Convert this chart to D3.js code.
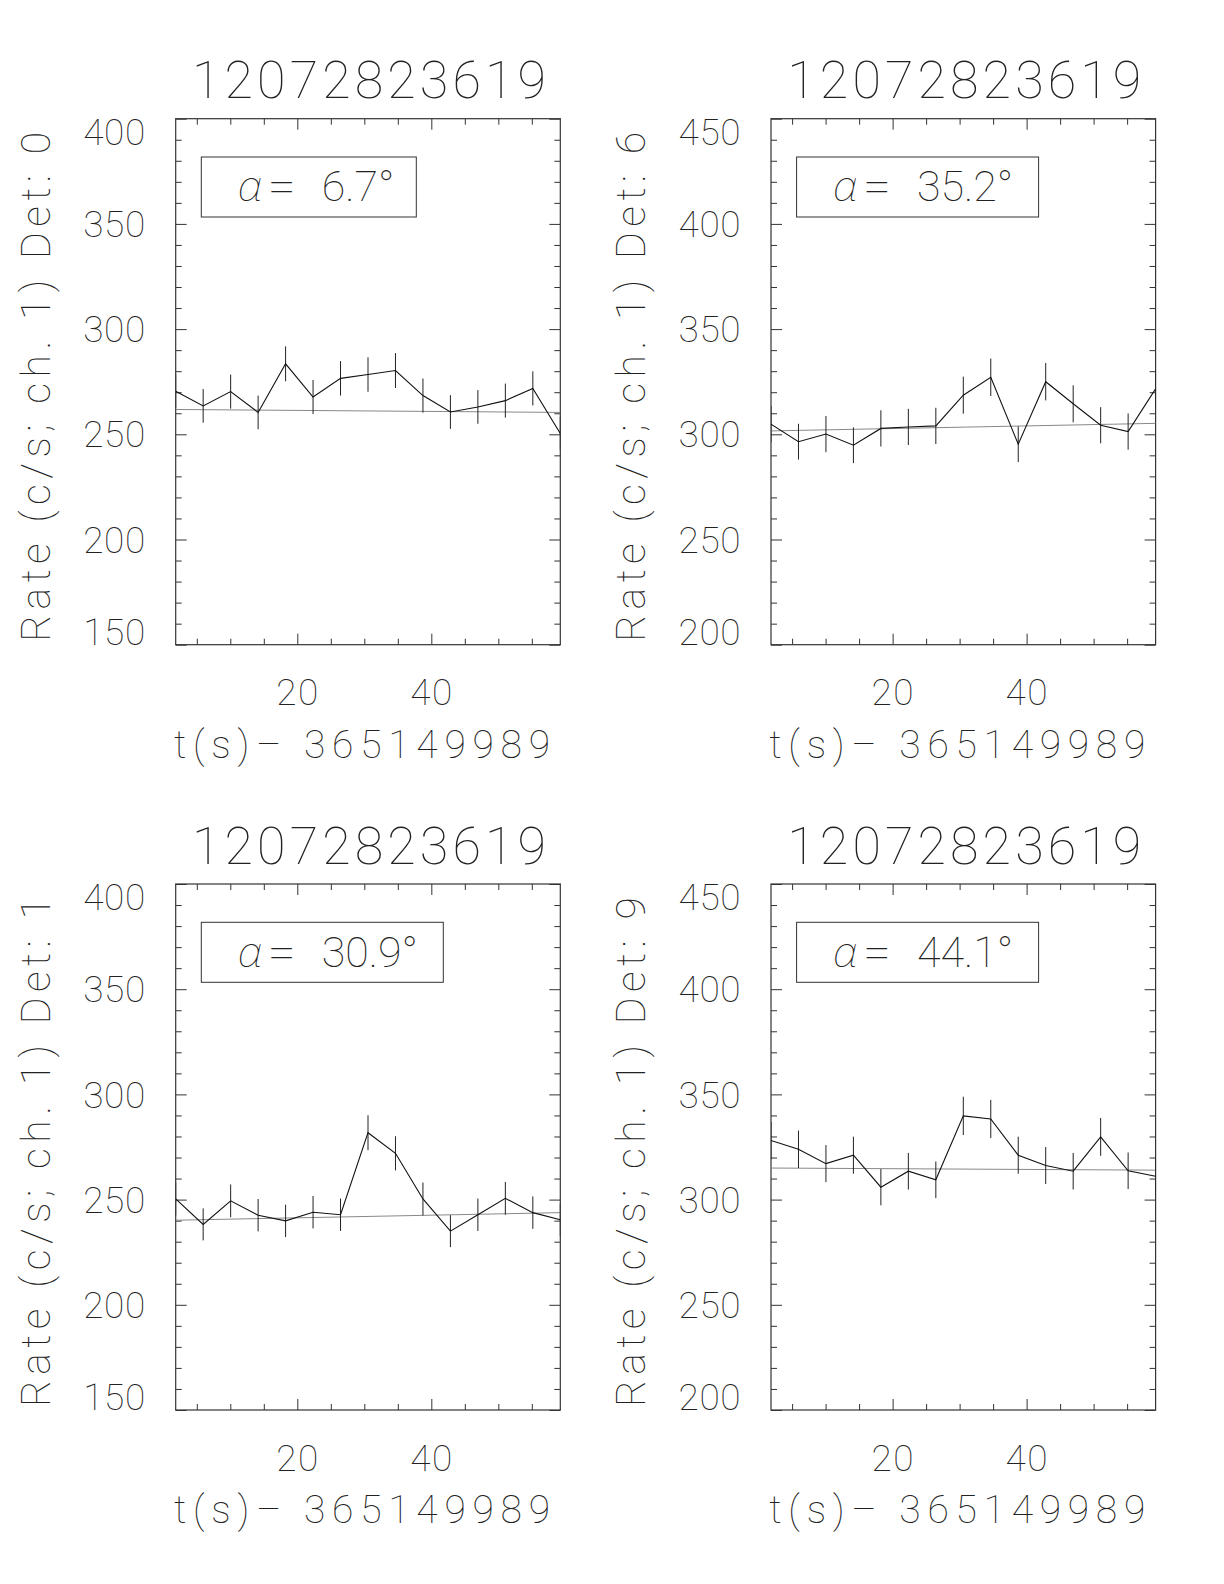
<!DOCTYPE html>
<html><head><meta charset="utf-8">
<script src="https://cdn.jsdelivr.net/npm/d3@7"></script>
<style>body{margin:0;background:#fff}svg text{font-family:Roboto,"DejaVu Sans",sans-serif;font-weight:100;fill:#222}</style>
</head><body>
<svg id="c" width="1224" height="1584"></svg>
<script>
// ---------- data ----------
const obsTitle = "12072823619";
const xTitle = "t(s)\u2013 365149989";
const times = [1.85, 5.95, 10.05, 14.15, 18.25, 22.35, 26.45, 30.55, 34.65, 38.75, 42.85, 46.95, 51.05, 55.15, 59.25];
const xMajorTicks = [20, 40];
const xMinorTicks = [5, 10, 15, 25, 30, 35, 45, 50, 55];
const detectors = ["0", "6", "1", "9"];
const angles = ["6.7", "35.2", "30.9", "44.1"];
const yLabelsLow = [150, 200, 250, 300, 350, 400];
const yLabelsHigh = [200, 250, 300, 350, 400, 450];

const rateDet0 = [270.5, 263.5, 270.3, 260.4, 283.5, 267.7, 276.6, 278.4, 280.3, 268.4, 260.6, 263.0, 266.0, 271.8, 250.4];
const errDet0  = [8.1, 8.0, 8.1, 8.0, 8.3, 8.1, 8.2, 8.2, 8.3, 8.1, 8.0, 8.0, 8.1, 8.1, 7.8];
const fitDet0  = [261.8, 260.4];

const rateDet6 = [304.8, 296.5, 300.1, 294.8, 302.8, 303.5, 304.0, 318.6, 327.1, 295.3, 325.0, 314.5, 304.3, 301.3, 321.6];
const errDet6  = [8.6, 8.5, 8.6, 8.5, 8.6, 8.6, 8.6, 8.8, 8.9, 8.5, 8.9, 8.8, 8.6, 8.6, 8.8];
const fitDet6  = [301.6, 305.2];

const rateDet1 = [250.3, 238.2, 249.4, 242.6, 239.9, 244.0, 242.8, 281.8, 272.0, 250.3, 235.0, 242.8, 250.6, 243.8, 240.4];
const errDet1  = [7.8, 7.6, 7.8, 7.7, 7.7, 7.7, 7.7, 8.3, 8.1, 7.8, 7.6, 7.7, 7.8, 7.7, 7.7];
const fitDet1  = [240.2, 243.8];

const rateDet9 = [328.1, 323.9, 317.1, 321.1, 305.9, 313.5, 309.4, 339.8, 338.3, 321.1, 316.2, 313.5, 329.8, 313.7, 311.1];
const errDet9  = [8.9, 8.9, 8.8, 8.8, 8.6, 8.7, 8.7, 9.1, 9.1, 8.8, 8.8, 8.7, 9.0, 8.7, 8.7];
const fitDet9  = [315.0, 314.0];

const yDomains = [[150, 400], [200, 450], [150, 400], [200, 450]];
const yLabelSets = [yLabelsLow, yLabelsHigh, yLabelsLow, yLabelsHigh];
const rates = [rateDet0, rateDet6, rateDet1, rateDet9];
const errs = [errDet0, errDet6, errDet1, errDet9];
const fits = [fitDet0, fitDet6, fitDet1, fitDet9];

// ---------- layout ----------
const W = 384.6, H = 526;
const origins = [[175.7, 118.7], [771, 118.7], [175.7, 884], [771, 884]];
const svg = d3.select("#c");

const fsTick = 37, fsTitle = 52, fsAxis = 39, fsYTitle = 41, fsAlpha = 43;
const cap = fs => fs * 0.711;

origins.forEach(([ox, oy], k) => {
  const g = svg.append("g").attr("transform", `translate(${ox},${oy})`);
  const x = d3.scaleLinear().domain([times[0], times[times.length - 1]]).range([0, W]);
  const y = d3.scaleLinear().domain(yDomains[k]).range([H, 0]);
  const [y0, y1] = yDomains[k];
  const yMajor = yLabelSets[k];
  const yMinor = d3.range(y0, y1 + 1, 10).filter(v => !yMajor.includes(v));

  const clipId = "clip" + k;
  g.append("clipPath").attr("id", clipId).append("rect").attr("width", W).attr("height", H);

  // ticks (inward, mirrored)
  const tickG = g.append("g").attr("class", "ticks");
  const mk = (axis, tr) => {
    const a = tickG.append("g").attr("transform", tr).call(axis);
    a.select(".domain").remove();
    a.selectAll("text").remove();
    a.selectAll("line").attr("stroke", "#333").attr("stroke-width", 1);
  };
  mk(d3.axisBottom(x).tickValues(xMajorTicks).tickSize(-11), `translate(0,${H})`);
  mk(d3.axisBottom(x).tickValues(xMinorTicks).tickSize(-6), `translate(0,${H})`);
  mk(d3.axisTop(x).tickValues(xMajorTicks).tickSize(-11), `translate(0,0)`);
  mk(d3.axisTop(x).tickValues(xMinorTicks).tickSize(-6), `translate(0,0)`);
  mk(d3.axisLeft(y).tickValues(yMajor).tickSize(-11), `translate(0,0)`);
  mk(d3.axisLeft(y).tickValues(yMinor).tickSize(-6), `translate(0,0)`);
  mk(d3.axisRight(y).tickValues(yMajor).tickSize(-11), `translate(${W},0)`);
  mk(d3.axisRight(y).tickValues(yMinor).tickSize(-6), `translate(${W},0)`);

  // box
  g.append("rect").attr("width", W).attr("height", H)
    .attr("fill", "none").attr("stroke", "#333").attr("stroke-width", 1.2);

  // y tick labels (end ones kept inside box extent)
  const c = cap(fsTick);
  g.append("g").selectAll("text").data(yMajor).join("text")
    .attr("x", -30.5)
    .attr("y", v => Math.min(Math.max(y(v), c / 2), H - c / 2) + c / 2)
    .attr("text-anchor", "end")
    .attr("font-size", fsTick)
    .attr("textLength", 62).attr("lengthAdjust", "spacing")
    .text(v => v);

  // x tick labels
  g.append("g").selectAll("text").data(xMajorTicks).join("text")
    .attr("x", v => x(v)).attr("y", H + 60.5)
    .attr("text-anchor", "middle").attr("font-size", fsTick)
    .attr("textLength", 42).attr("lengthAdjust", "spacing")
    .text(v => v);

  // x title
  g.append("text").attr("x", W / 2 - 6).attr("y", H + 113)
    .attr("text-anchor", "middle").attr("font-size", fsAxis)
    .attr("textLength", 376).attr("lengthAdjust", "spacing")
    .text(xTitle);

  // title
  g.append("text").attr("x", W / 2 + 1).attr("y", -20.5)
    .attr("text-anchor", "middle").attr("font-size", fsTitle)
    .attr("textLength", 354).attr("lengthAdjust", "spacing")
    .text(obsTitle);

  // y title
  g.append("text")
    .attr("transform", `translate(-126,${H / 2 + 5}) rotate(-90)`)
    .attr("text-anchor", "middle").attr("font-size", fsYTitle)
    .attr("textLength", 510).attr("lengthAdjust", "spacing")
    .text("Rate (c/s; ch. 1) Det: " + detectors[k]);

  // alpha box
  const boxW = k === 0 ? 215 : 242;
  g.append("rect").attr("x", 25.6).attr("y", 38.3).attr("width", boxW).attr("height", 60)
    .attr("fill", "none").attr("stroke", "#333").attr("stroke-width", 1);
  g.append("text").attr("x", 62).attr("y", 82.5).attr("font-size", fsAlpha)
    .attr("font-style", "italic")
    .style("font-family", "'Noto Sans', 'Open Sans', sans-serif")
    .style("font-weight", 100)
    .text("\u03B1");
  g.append("text").attr("x", 92).attr("y", 82.5).attr("font-size", fsAlpha)
    .attr("textLength", 28).attr("lengthAdjust", "spacingAndGlyphs").text("=");
  g.append("text").attr("x", 146).attr("y", 82.5).attr("font-size", fsAlpha)
    .text(angles[k] + "\u00B0");

  // data
  const plot = g.append("g").attr("clip-path", `url(#${clipId})`);
  plot.append("line")
    .attr("x1", x(times[0])).attr("x2", x(times[times.length - 1]))
    .attr("y1", y(fits[k][0])).attr("y2", y(fits[k][1]))
    .attr("stroke", "#888").attr("stroke-width", 1);
  const pts = times.map((t, i) => ({ t, r: rates[k][i], e: errs[k][i] }));
  plot.append("g").selectAll("line").data(pts).join("line")
    .attr("x1", d => x(d.t)).attr("x2", d => x(d.t))
    .attr("y1", d => y(d.r - d.e)).attr("y2", d => y(d.r + d.e))
    .attr("stroke", "#222").attr("stroke-width", 1);
  plot.append("path").datum(pts)
    .attr("d", d3.line().x(d => x(d.t)).y(d => y(d.r)))
    .attr("fill", "none").attr("stroke", "#111").attr("stroke-width", 1.1);
});
</script>
</body></html>
